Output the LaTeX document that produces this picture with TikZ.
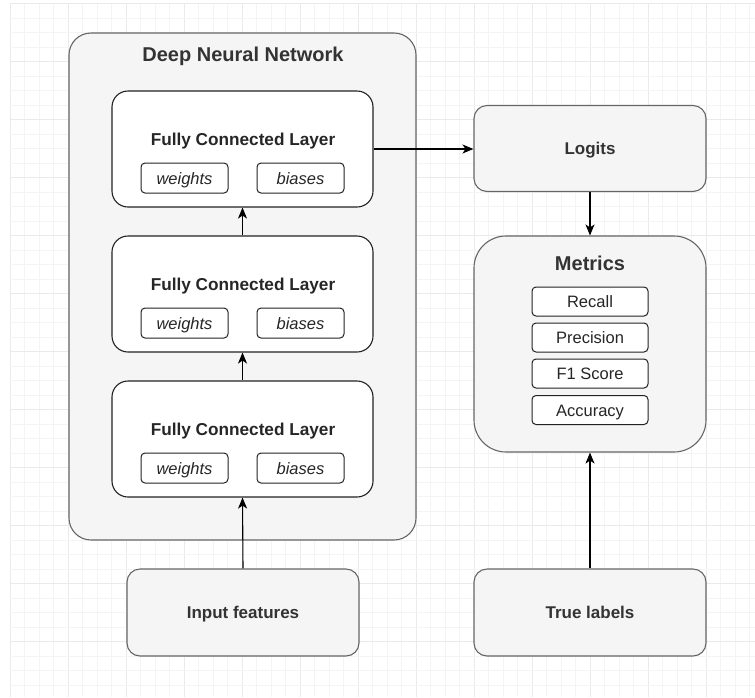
\documentclass[tikz,border=0pt]{standalone}
\usepackage{fontspec}
\setmainfont{Liberation Sans}
\usetikzlibrary{arrows.meta}
\definecolor{gfill}{HTML}{F5F5F5}
\definecolor{gdraw}{HTML}{666666}
\definecolor{gtext}{HTML}{333333}
\definecolor{gridmin}{HTML}{F4F4F4}
\definecolor{gridmaj}{HTML}{EAEAEA}
\definecolor{dark}{HTML}{222222}
\begin{document}
\begin{tikzpicture}[x=1pt,y=-1pt,
  graybox/.style={draw=gdraw, fill=gfill, line width=1.1pt, text=gtext, inner sep=0pt, anchor=center, text height=12.2pt, text depth=0pt},
  layerbox/.style={draw=dark, fill=white, line width=1.1pt, rounded corners=16pt, minimum width=261pt, minimum height=116pt, inner sep=0pt},
  smallbox/.style={draw=dark, fill=white, line width=1pt, rounded corners=4pt, minimum height=30pt, inner sep=0pt, font=\itshape\fontsize{16.5}{19}\selectfont, text=black!85, text height=12pt, text depth=0pt},
  metbox/.style={draw=dark, fill=white, line width=1pt, rounded corners=4pt, minimum width=116pt, minimum height=29pt, inner sep=0pt, font=\fontsize{16.5}{19}\selectfont, text=black!85, text height=12pt, text depth=0pt},
  ttl/.style={font=\bfseries\fontsize{17.2}{20}\selectfont, text=black!85, inner sep=0pt, text height=12.3pt, text depth=0pt},
  bigttl/.style={font=\bfseries\fontsize{20}{24}\selectfont, text=gtext, inner sep=0pt, text height=14.3pt, text depth=0pt},
  conn/.style={draw=black, line width=1.1pt, -{Stealth[length=11pt,width=9pt,inset=3pt]}}
]
\useasboundingbox (0,0) rectangle (755,697);
\fill[white] (0,0) rectangle (755,697);
% grid
\foreach \i in {0,...,51} {
  \pgfmathtruncatemacro{\m}{mod(\i,4)}
  \ifnum\m=0
    \draw[gridmaj, line width=0.9pt] ({10+14.5*\i},3.5) -- ({10+14.5*\i},697);
  \else
    \draw[gridmin, line width=0.9pt] ({10+14.5*\i},3.5) -- ({10+14.5*\i},697);
  \fi
}
\foreach \j in {0,...,47} {
  \pgfmathtruncatemacro{\m}{mod(\j,4)}
  \ifnum\m=0
    \draw[gridmaj, line width=0.9pt] (10,{3.5+14.5*\j}) -- (755,{3.5+14.5*\j});
  \else
    \draw[gridmin, line width=0.9pt] (10,{3.5+14.5*\j}) -- (755,{3.5+14.5*\j});
  \fi
}

% container
\node[graybox, rounded corners=22pt, minimum width=347pt, minimum height=507pt] (dnn) at (242.5,286.5) {};
\node[bigttl] (dnnt) at (243,54.2) {Deep Neural Network};

% layers
\node[layerbox] (fc1) at (242.5,149) {};
\node[layerbox] (fc2) at (242.5,294) {};
\node[layerbox] (fc3) at (242.5,439) {};
\foreach \n/\y in {1/149,2/294,3/439} {
  \node[ttl] (fc\n t) at (243,{\y-9.7}) {Fully Connected Layer};
  \node[smallbox, minimum width=87pt] (w\n) at (184.5,{\y+29}) {weights};
  \node[smallbox, minimum width=87pt] (b\n) at (300.5,{\y+29}) {biases};
}

% right side
\node[graybox, rounded corners=13pt, minimum width=232pt, minimum height=86pt, font=\bfseries\fontsize{17}{20}\selectfont] (logits) at (590,148.5) {Logits};
\node[graybox, rounded corners=32pt, minimum width=232pt, minimum height=216pt] (metrics) at (590,344) {};
\node[bigttl] (mt) at (590,263.7) {Metrics};
\node[metbox] (rec) at (590,301.5) {Recall};
\node[metbox] (pre) at (590,337.5) {Precision};
\node[metbox] (f1) at (590,373.5) {F1 Score};
\node[metbox] (acc) at (590,410) {Accuracy};

\node[graybox, rounded corners=13pt, minimum width=232pt, minimum height=87pt, font=\bfseries\fontsize{17}{20}\selectfont] (inp) at (243,612.5) {Input features};
\node[graybox, rounded corners=13pt, minimum width=232pt, minimum height=87pt, font=\bfseries\fontsize{17}{20}\selectfont] (tl) at (590,612.5) {True labels};

% connectors
\draw[conn] (inp.north) -- (fc3.south);
\draw[conn] (fc3.north) -- (fc2.south);
\draw[conn] (fc2.north) -- (fc1.south);
\draw[conn] (fc1.east) -- (fc1.east -| logits.west);
\draw[conn] (logits.south) -- (metrics.north);
\draw[conn] (tl.north) -- (metrics.south);
\end{tikzpicture}
\end{document}
